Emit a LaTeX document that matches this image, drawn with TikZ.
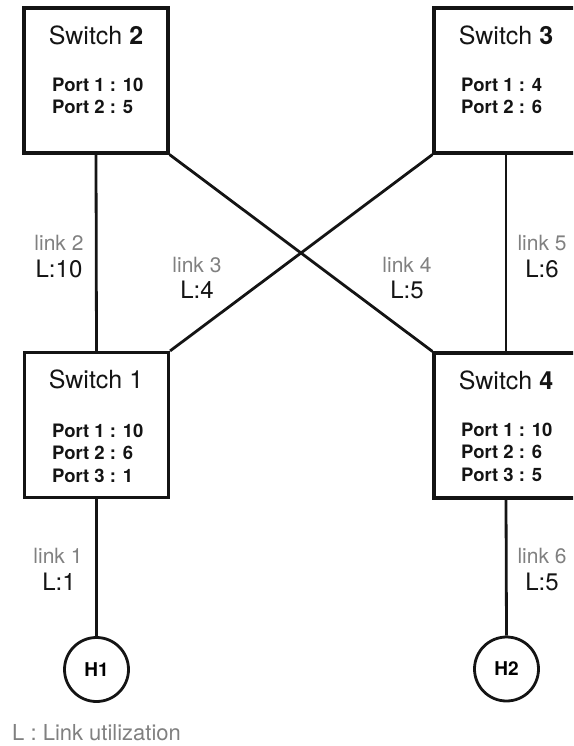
\documentclass[tikz,border=0pt]{standalone}
\usepackage{fontspec}
\setmainfont{TeX Gyre Heros}
\definecolor{linkgray}{RGB}{128,128,128}
\definecolor{inkblack}{RGB}{20,20,20}
\begin{document}
\begin{tikzpicture}[x=1pt,y=-1pt,
  swbox/.style={draw=inkblack,line width=3.2pt,rectangle,inner sep=0pt,minimum width=144pt,minimum height=145pt},
  hostnode/.style={draw=inkblack,line width=2.8pt,circle,inner sep=0pt,minimum size=64pt,font=\fontsize{19}{22}\selectfont\bfseries},
  titletext/.style={anchor=base,inner sep=0pt,text=inkblack,font=\fontsize{25}{30}\selectfont},
  porttext/.style={anchor=base west,inner sep=0pt,text=inkblack,font=\fontsize{18.5}{22}\selectfont\bfseries},
  linktext/.style={anchor=base,inner sep=0pt,text=linkgray,font=\fontsize{21}{25}\selectfont},
  utiltext/.style={anchor=base,inner sep=0pt,text=inkblack,font=\fontsize{24}{28}\selectfont},
  conn/.style={draw=inkblack,line width=2.8pt}]
\useasboundingbox (0,0) rectangle (573,746);
\clip (0,0) rectangle (573,746);
% switches
\node[swbox] (s2) at (96,80.5) {};
\node[swbox] (s3) at (506,80.5) {};
\node[swbox] (s1) at (96.5,425) {};
\node[swbox] (s4) at (506,425.5) {};
% hosts
\node[hostnode] (h1) at (96.5,669.5) {H1};
\node[hostnode] (h2) at (506.5,669) {H2};
% titles and ports
\node[titletext] (t2) at (96,45) {Switch \textbf{2}};
\node[porttext] (s2p1) at (52,92) {Port 1 : 10};
\node[porttext] (s2p2) at (52,113.5) {Port 2 : 5};
\node[titletext] (t3) at (506,45) {Switch \textbf{3}};
\node[porttext] (s3p1) at (461,92) {Port 1 : 4};
\node[porttext] (s3p2) at (461,113.5) {Port 2 : 6};
\node[titletext] (t1) at (96,388) {Switch 1};
\node[porttext] (s1p1) at (52,437) {Port 1 : 10};
\node[porttext] (s1p2) at (52,459.5) {Port 2 : 6};
\node[porttext] (s1p3) at (52,482) {Port 3 : 1};
\node[titletext] (t4) at (506,389) {Switch \textbf{4}};
\node[porttext] (s4p1) at (461,436) {Port 1 : 10};
\node[porttext] (s4p2) at (461,458.5) {Port 2 : 6};
\node[porttext] (s4p3) at (461,481) {Port 3 : 5};
% connectors
\draw[conn] (s2.south) -- (s1.north);
\draw[conn] (s3.south) -- (s4.north);
\draw[conn] (s2.south east) -- (s4.north west);
\draw[conn] (s3.south west) -- (s1.north east);
\draw[conn] (s1.south) -- (h1.north);
\draw[conn] (s4.south) -- (h2.north);
% labels
\node[linktext] (l2) at (59,250) {link 2};
\node[utiltext] (u2) at (59,277) {L:10};
\node[linktext] (l3) at (197,272) {link 3};
\node[utiltext] (u3) at (197,298) {L:4};
\node[linktext] (l4) at (407,272) {link 4};
\node[utiltext] (u4) at (407,298) {L:5};
\node[linktext] (l5) at (542,250) {link 5};
\node[utiltext] (u5) at (542,277) {L:6};
\node[linktext] (l1) at (58,563) {link 1};
\node[utiltext] (u1) at (59,590) {L:1};
\node[linktext] (l6) at (542,563) {link 6};
\node[utiltext] (u6) at (542,590) {L:5};
% legend
\node[anchor=base west,inner sep=0pt,text=linkgray,font=\fontsize{22}{26}\selectfont] (legend) at (12,740) {L : Link utilization};
\end{tikzpicture}
\end{document}
